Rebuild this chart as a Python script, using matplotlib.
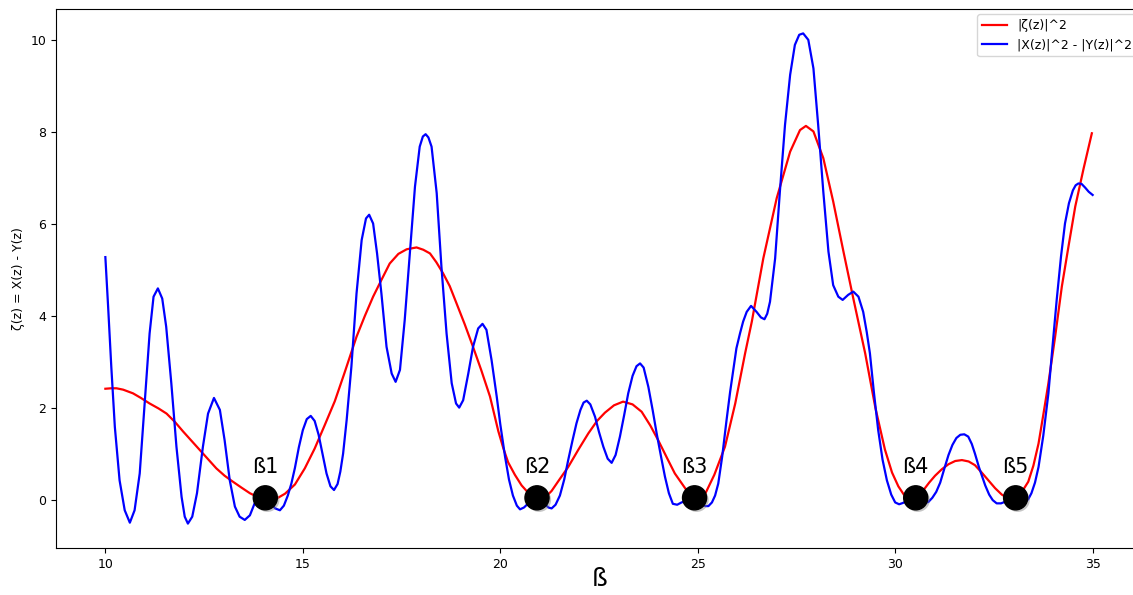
import numpy as np
import matplotlib
matplotlib.use("Agg")
import matplotlib.pyplot as plt
import matplotlib.patheffects as pe

# |zeta|^2 (red)
red_x = [10.00, 10.15, 10.28, 10.45, 10.70, 10.90, 11.12, 11.35, 11.55, 11.76,
         11.97, 12.18, 12.39, 12.60, 12.81, 13.02, 13.23, 13.45, 13.66, 13.90,
         14.13, 14.35, 14.55, 14.80, 15.05, 15.30, 15.55, 15.81, 16.05, 16.36,
         16.57, 16.78, 17.00, 17.20, 17.42, 17.63, 17.88, 18.05, 18.22, 18.38,
         18.55, 18.72, 18.89, 19.10, 19.31, 19.52, 19.74, 19.95, 20.08, 20.20,
         20.37, 20.54, 20.75, 21.02, 21.15, 21.30, 21.50, 21.72, 21.98, 22.23,
         22.45, 22.65, 22.88, 23.11, 23.35, 23.58, 23.80, 24.00, 24.22, 24.42,
         24.68, 24.85, 25.01, 25.18, 25.42, 25.69, 25.95, 26.20, 26.37, 26.66,
         27.00, 27.34, 27.59, 27.74, 27.93, 28.18, 28.43, 28.69, 28.94, 29.24,
         29.50, 29.74, 29.92, 30.08, 30.25, 30.42, 30.55, 30.70, 30.86, 31.01,
         31.18, 31.35, 31.52, 31.69, 31.86, 32.02, 32.19, 32.36, 32.53, 32.70,
         32.94, 33.15, 33.37, 33.50, 33.63, 33.75, 33.88, 34.05, 34.22, 34.39,
         34.56, 34.77, 34.98]
red_y = [2.42, 2.43, 2.43, 2.40, 2.32, 2.22, 2.10, 1.99, 1.88, 1.70,
         1.49, 1.29, 1.09, 0.89, 0.69, 0.53, 0.40, 0.27, 0.15, 0.05,
         0.00, 0.04, 0.14, 0.34, 0.69, 1.12, 1.62, 2.15, 2.75, 3.55,
         4.00, 4.42, 4.80, 5.14, 5.35, 5.45, 5.49, 5.44, 5.36, 5.17,
         4.93, 4.65, 4.28, 3.82, 3.33, 2.82, 2.25, 1.50, 1.12, 0.82,
         0.55, 0.32, 0.12, 0.00, 0.07, 0.20, 0.45, 0.72, 1.10, 1.45,
         1.72, 1.90, 2.06, 2.14, 2.08, 1.92, 1.62, 1.30, 0.92, 0.58,
         0.26, 0.08, 0.00, 0.12, 0.55, 1.16, 2.10, 3.19, 3.88, 5.25,
         6.56, 7.57, 8.04, 8.13, 8.01, 7.43, 6.49, 5.40, 4.38, 3.19,
         2.00, 1.10, 0.60, 0.30, 0.08, 0.00, 0.05, 0.20, 0.38, 0.53,
         0.67, 0.78, 0.85, 0.87, 0.84, 0.76, 0.60, 0.43, 0.26, 0.12,
         0.00, 0.10, 0.40, 0.75, 1.23, 1.85, 2.54, 3.55, 4.64, 5.52,
         6.38, 7.20, 7.97]

# |X|^2 - |Y|^2 (blue)
blue_x = [10.00, 10.07, 10.15, 10.24, 10.36, 10.49, 10.62, 10.74, 10.87, 11.00,
          11.12, 11.22, 11.33, 11.44, 11.54, 11.67, 11.80, 11.93, 12.01, 12.09,
          12.20, 12.32, 12.47, 12.60, 12.75, 12.90, 13.02, 13.15, 13.28, 13.40,
          13.53, 13.66, 13.78, 13.92, 14.05, 14.18, 14.30, 14.42, 14.52, 14.62,
          14.71, 14.80, 14.90, 15.00, 15.10, 15.20, 15.30, 15.40, 15.50, 15.60,
          15.70, 15.79, 15.88, 15.95, 16.02, 16.11, 16.23, 16.36, 16.49, 16.60,
          16.68, 16.78, 16.88, 16.99, 17.12, 17.25, 17.35, 17.46, 17.58, 17.71,
          17.84, 17.96, 18.04, 18.11, 18.18, 18.26, 18.39, 18.51, 18.64, 18.77,
          18.88, 18.96, 19.06, 19.19, 19.31, 19.44, 19.55, 19.65, 19.78, 19.91,
          20.00, 20.12, 20.22, 20.32, 20.42, 20.50, 20.60, 20.71, 20.82, 20.93,
          21.03, 21.13, 21.22, 21.30, 21.40, 21.51, 21.62, 21.72, 21.83, 21.93,
          22.03, 22.11, 22.19, 22.28, 22.40, 22.50, 22.61, 22.72, 22.82, 22.92,
          23.03, 23.14, 23.24, 23.35, 23.45, 23.54, 23.63, 23.75, 23.86, 23.96,
          24.07, 24.17, 24.27, 24.37, 24.48, 24.59, 24.75, 24.90, 25.00, 25.10,
          25.20, 25.27, 25.36, 25.44, 25.52, 25.62, 25.73, 25.82, 25.90, 25.98,
          26.07, 26.15, 26.24, 26.35, 26.49, 26.60, 26.69, 26.76, 26.83, 26.96,
          27.08, 27.21, 27.34, 27.46, 27.57, 27.67, 27.80, 27.93, 28.05, 28.18,
          28.31, 28.43, 28.56, 28.67, 28.81, 28.94, 29.07, 29.19, 29.28, 29.36,
          29.46, 29.57, 29.68, 29.79, 29.90, 30.00, 30.10, 30.20, 30.35, 30.52,
          30.65, 30.76, 30.84, 30.94, 31.04, 31.14, 31.25, 31.35, 31.45, 31.55,
          31.65, 31.75, 31.85, 31.94, 32.02, 32.12, 32.20, 32.28, 32.38, 32.47,
          32.57, 32.68, 32.80, 32.93, 33.05, 33.17, 33.28, 33.37, 33.45, 33.54,
          33.63, 33.75, 33.88, 33.98, 34.09, 34.20, 34.30, 34.40, 34.50, 34.57,
          34.64, 34.72, 34.81, 34.90, 35.00]
blue_y = [5.28, 4.20, 2.90, 1.59, 0.43, -0.22, -0.49, -0.22, 0.58, 2.17,
          3.62, 4.42, 4.60, 4.38, 3.77, 2.54, 1.16, 0.07, -0.36, -0.51,
          -0.36, 0.15, 1.16, 1.88, 2.22, 1.96, 1.30, 0.43, -0.14, -0.36,
          -0.43, -0.33, -0.07, 0.05, 0.05, -0.05, -0.18, -0.22, -0.12, 0.10,
          0.36, 0.70, 1.15, 1.52, 1.76, 1.83, 1.72, 1.42, 1.00, 0.58,
          0.30, 0.22, 0.35, 0.62, 1.01, 1.74, 2.90, 4.49, 5.65, 6.12,
          6.20, 6.01, 5.36, 4.49, 3.33, 2.75, 2.57, 2.83, 3.91, 5.36,
          6.81, 7.68, 7.90, 7.95, 7.88, 7.68, 6.67, 5.07, 3.62, 2.54,
          2.10, 2.01, 2.17, 2.75, 3.33, 3.73, 3.83, 3.70, 3.04, 2.25,
          1.65, 0.95, 0.45, 0.10, -0.12, -0.20, -0.16, -0.07, -0.01, 0.00,
          -0.03, -0.09, -0.16, -0.18, -0.10, 0.10, 0.45, 0.87, 1.30, 1.67,
          1.96, 2.12, 2.16, 2.08, 1.81, 1.48, 1.16, 0.90, 0.81, 0.98,
          1.38, 1.86, 2.32, 2.70, 2.91, 2.97, 2.88, 2.46, 1.95, 1.45,
          0.95, 0.51, 0.15, -0.08, -0.10, -0.05, 0.00, 0.00, -0.05, -0.10,
          -0.13, -0.13, -0.05, 0.10, 0.36, 0.95, 1.74, 2.35, 2.83, 3.30,
          3.62, 3.88, 4.09, 4.22, 4.09, 3.97, 3.93, 4.05, 4.31, 5.25,
          6.70, 8.15, 9.24, 9.89, 10.11, 10.14, 10.00, 9.38, 8.15, 6.70,
          5.40, 4.67, 4.42, 4.35, 4.46, 4.53, 4.42, 4.09, 3.65, 3.19,
          2.35, 1.52, 0.88, 0.43, 0.12, -0.05, -0.09, -0.06, 0.00, 0.00,
          -0.04, -0.06, -0.04, 0.05, 0.18, 0.38, 0.70, 0.98, 1.20, 1.35,
          1.42, 1.43, 1.38, 1.22, 1.01, 0.72, 0.52, 0.32, 0.12, 0.00,
          -0.07, -0.07, -0.03, 0.00, 0.00, -0.04, -0.05, 0.02, 0.15, 0.38,
          0.72, 1.40, 2.32, 3.30, 4.35, 5.30, 6.01, 6.45, 6.73, 6.84,
          6.88, 6.87, 6.79, 6.70, 6.63]

zero_x = [14.05, 20.93, 24.92, 30.52, 33.05]
zero_y = [0.05, 0.05, 0.05, 0.05, 0.05]
zero_labels = ["ß1", "ß2", "ß3", "ß4", "ß5"]

fig = plt.figure(figsize=(11.33, 5.95), dpi=100)
ax = fig.add_axes([56 / 1133, 47 / 595, (1142 - 56) / 1133, (548 - 9) / 595])

ax.plot(red_x, red_y, color="red", lw=1.6, label="|ζ(z)|^2")
ax.plot(blue_x, blue_y, color="blue", lw=1.6, label="|X(z)|^2 - |Y(z)|^2")

ax.scatter(zero_x, zero_y, s=300, color="black", zorder=5,
           path_effects=[pe.SimplePatchShadow(offset=(1.5, -1.5), shadow_rgbFace="gray", alpha=0.45),
                         pe.Normal()])
for zx, lab in zip(zero_x, zero_labels):
    ax.text(zx, 0.72, lab, fontsize=15, ha="center", va="center")

ax.set_xlim(8.75, 36.25)
ax.set_ylim(-1.04, 10.67)
ax.set_xticks([10, 15, 20, 25, 30, 35])
ax.set_yticks([0, 2, 4, 6, 8, 10])
ax.tick_params(labelsize=9)
ax.set_xlabel("ß", fontsize=18)
ax.xaxis.set_label_coords(0.501, -0.036)
ax.set_ylabel("ζ(z) = X(z) - Y(z)", fontsize=9)

ax.legend(loc="upper right", fontsize=9, borderaxespad=0.4)

fig.savefig("out.png", dpi=100)
